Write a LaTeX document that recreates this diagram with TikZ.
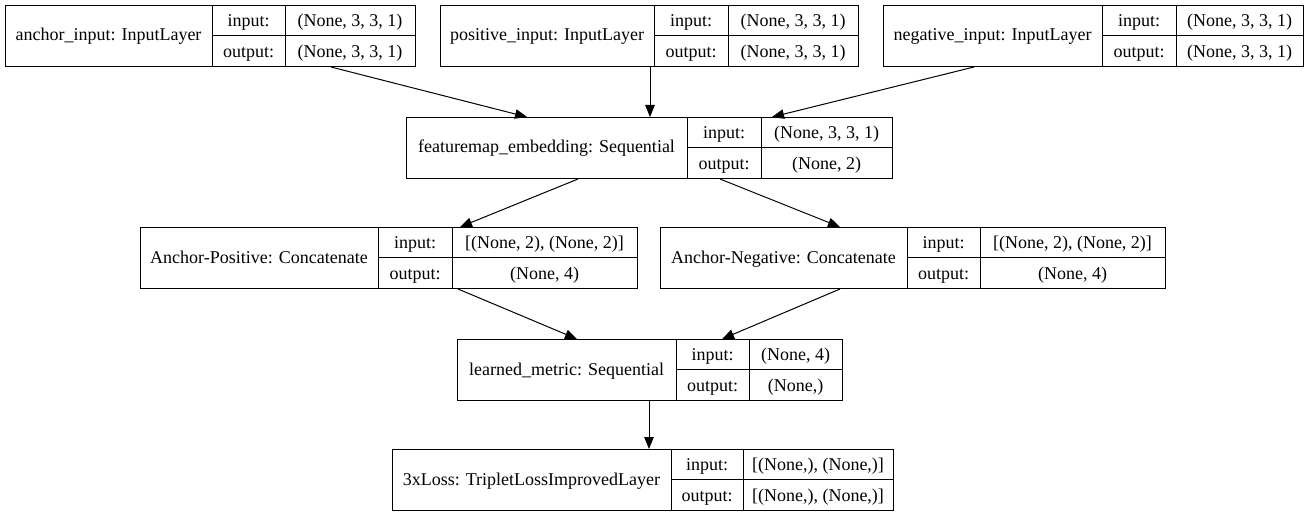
\documentclass[tikz,border=0pt]{standalone}
\usepackage{fontspec}
\setmainfont{Liberation Serif}
\usetikzlibrary{arrows.meta}

\tikzset{
  recbox/.style={draw, line width=1pt, inner sep=0pt, anchor=north west},
  celltxt/.style={anchor=base, inner sep=0pt},
  arr/.style={line width=1pt, -{Triangle[length=12pt,width=9.5pt]}}
}

% one keras layer record: name, left, split 1, split 2, right, top, title, input, output
\newcommand{\kerasrec}[9]{%
  \node[recbox, minimum width={(#5-#2)*1pt}, minimum height=61pt] (#1) at (#2,#6) {};
  \draw[line width=1pt] (#3,#6) -- (#3,#6+61) (#4,#6) -- (#4,#6+61)
    (#3,#6+30.5) -- (#5,#6+30.5);
  \node[celltxt] (#1-t) at ({(#2+#3)/2},#6+36) {#7};
  \node[celltxt] (#1-il) at ({(#3+#4)/2},#6+21.5) {input:};
  \node[celltxt] (#1-ol) at ({(#3+#4)/2},#6+52.5) {output:};
  \node[celltxt] (#1-iv) at ({(#4+#5)/2},#6+21.5) {#8};
  \node[celltxt] (#1-ov) at ({(#4+#5)/2},#6+52.5) {#9};
}

\begin{document}
\begin{tikzpicture}[x=1pt, y=-1pt, font=\fontsize{18}{22}\selectfont]
  \useasboundingbox (0,0) rectangle (1311,516);

  \kerasrec{anchor}{5}{212}{285}{415}{5}{anchor\_input: InputLayer}{(None, 3, 3, 1)}{(None, 3, 3, 1)}
  \kerasrec{positive}{440}{654}{728}{858}{5}{positive\_input: InputLayer}{(None, 3, 3, 1)}{(None, 3, 3, 1)}
  \kerasrec{negative}{883}{1102}{1176}{1303}{5}{negative\_input: InputLayer}{(None, 3, 3, 1)}{(None, 3, 3, 1)}
  \kerasrec{embed}{406}{687}{761}{892}{117}{featuremap\_embedding: Sequential}{(None, 3, 3, 1)}{(None, 2)}
  \kerasrec{apos}{140}{378}{452}{637}{227}{Anchor-Positive: Concatenate}{[(None, 2), (None, 2)]}{(None, 4)}
  \kerasrec{aneg}{660}{907}{980}{1165}{227}{Anchor-Negative: Concatenate}{[(None, 2), (None, 2)]}{(None, 4)}
  \kerasrec{metric}{457}{676}{749}{842}{339}{learned\_metric: Sequential}{(None, 4)}{(None,)}
  \kerasrec{loss}{392}{671}{743}{893}{449}{3xLoss: TripletLossImprovedLayer}{[(None,), (None,)]}{[(None,), (None,)]}

  % edges
  \draw[arr] ([xshift=326pt]anchor.south west) -- ([xshift=121pt]embed.north west);
  \draw[arr] ([xshift=210pt]positive.south west) -- ([xshift=244pt]embed.north west);
  \draw[arr] ([xshift=91pt]negative.south west) -- ([xshift=366pt]embed.north west);
  \draw[arr] ([xshift=172pt]embed.south west) -- ([xshift=320pt]apos.north west);
  \draw[arr] ([xshift=314pt]embed.south west) -- ([xshift=180pt]aneg.north west);
  \draw[arr] ([xshift=318pt]apos.south west) -- ([xshift=120pt]metric.north west);
  \draw[arr] ([xshift=180pt]aneg.south west) -- ([xshift=265pt]metric.north west);
  \draw[arr] ([xshift=192pt]metric.south west) -- ([xshift=257pt]loss.north west);
\end{tikzpicture}
\end{document}
